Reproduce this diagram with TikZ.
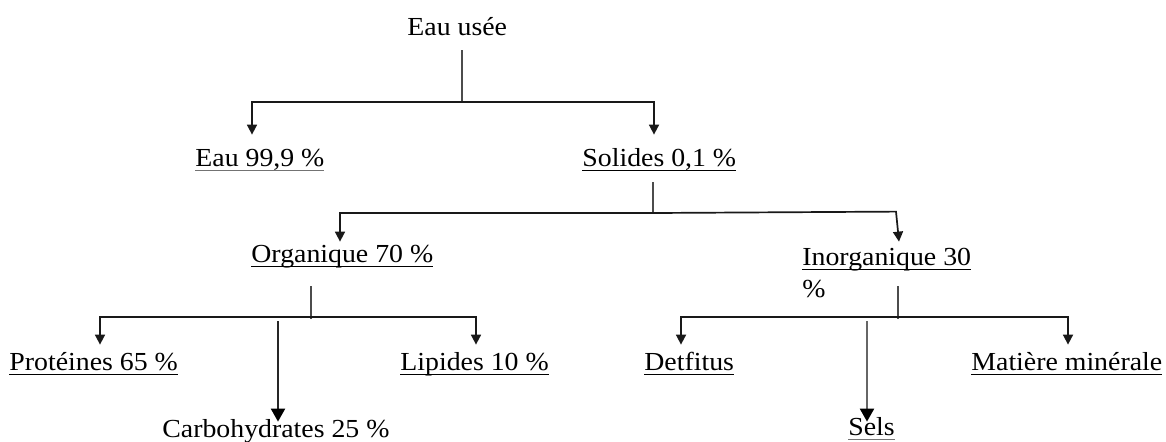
\documentclass[tikz,border=0pt]{standalone}
\usepackage{fontspec}
\setmainfont{Liberation Serif}[FakeStretch=1.07]
\usetikzlibrary{arrows.meta,calc}

% underline that runs through the descenders, word-processor style
\newcommand\ulbar[2][black]{\setbox0\hbox{#2}\rlap{\color{#1}\rule[-2.6pt]{\wd0}{0.75pt}}\box0}

\tikzset{
  lbl/.style={inner sep=0pt, anchor=base west, text height=9pt, font=\fontsize{13pt}{16pt}\selectfont},
  hline/.style={line width=0.85pt, draw=black!90},
  stub/.style={line width=0.75pt, draw=black!70},
  arr/.style={hline, -{Triangle[width=5pt,length=5pt]}},
  bigarr/.style={line width=1.1pt, draw=black!85, -{Triangle[width=7pt,length=6.5pt,color=black]}},
}

\begin{document}
\begin{tikzpicture}[x=0.5pt,y=-0.5pt]
\useasboundingbox (0,0) rectangle (1166,441);

% labels
\node[lbl] (usee)      at (407,35)  {Eau usée};
\node[lbl] (eau)       at (195,166) {\ulbar[black!55]{Eau 99,9 \%}};
\node[lbl] (solides)   at (582,166) {\ulbar{Solides 0,1 \%}};
\node[lbl] (organique) at (251,262) {\ulbar{Organique 70 \%}};
\node[lbl] (inorg)     at (802,265) {\vtop{\baselineskip=16pt\hbox{\ulbar{Inorganique 30}}\hbox{\%}}};
\node[lbl] (proteines) at (9,370)   {\ulbar{Protéines 65 \%}};
\node[lbl] (lipides)   at (400,370) {\ulbar{Lipides 10 \%}};
\node[lbl] (carbo)     at (162,437) {Carbohydrates 25 \%};
\node[lbl] (detfitus)  at (644,370) {\ulbar{Detfitus}};
\node[lbl] (sels)      at (848,435) {\ulbar[black!55]{Sels}};
\node[lbl] (matiere)   at (971,370) {\ulbar{Matière minérale}};

% junctions of the branch lines
\coordinate (j0) at (462,102);
\coordinate (j1) at (653,213);
\coordinate (j2) at (311,317);
\coordinate (j3) at (898,317);

% level 1
\draw[stub] ($(usee.base west)+(55,15)$) -- (j0);
\draw[arr] (j0) -| ($(eau.north west)+(57,-13)$);
\draw[arr] (j0) -| ($(solides.north west)+(72,-13)$);

% level 2
\draw[stub] ($(solides.base west)+(71,16)$) -- (j1);
\draw[arr] (j1) -| ($(organique.north west)+(89,-2)$);
\draw[arr] (j1) -- ($(inorg.north west)+(94,-35)$) -- ($(inorg.north west)+(97,-5)$);

% level 3, organic branch
\draw[stub] ($(organique.base west)+(60,24)$) -- ($(j2)+(0,2)$);
\draw[arr] (j2) -| ($(proteines.north west)+(91,-7)$);
\draw[arr] (j2) -| ($(lipides.north west)+(76,-7)$);
\draw[bigarr] ($(j2)+(-33,4)$) -- ($(carbo.north west)+(116,3)$);

% level 3, inorganic branch
\draw[stub] ($(inorg.base west)+(96,21)$) -- ($(j3)+(0,2)$);
\draw[arr] (j3) -| ($(detfitus.north west)+(37,-7)$);
\draw[arr] (j3) -| ($(matiere.north west)+(97,-7)$);
\draw[bigarr, draw=black!60] ($(j3)+(-31,4)$) -- ($(sels.north west)+(19,5)$);
\end{tikzpicture}
\end{document}
